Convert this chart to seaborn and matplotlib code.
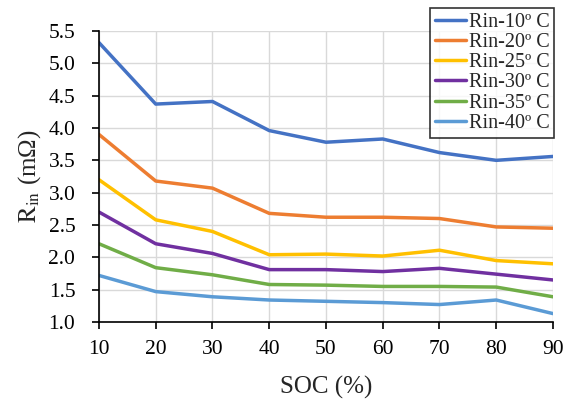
import matplotlib
matplotlib.use("Agg")
import matplotlib.pyplot as plt
import seaborn as sns
import pandas as pd

soc = [10, 20, 30, 40, 50, 60, 70, 80, 90]
rin_10 = [5.32, 4.37, 4.41, 3.96, 3.78, 3.83, 3.62, 3.50, 3.56]
rin_20 = [3.90, 3.18, 3.07, 2.68, 2.62, 2.62, 2.60, 2.47, 2.45]
rin_25 = [3.20, 2.58, 2.40, 2.04, 2.05, 2.02, 2.11, 1.95, 1.90]
rin_30 = [2.70, 2.21, 2.06, 1.81, 1.81, 1.78, 1.83, 1.74, 1.65]
rin_35 = [2.21, 1.84, 1.73, 1.58, 1.57, 1.55, 1.55, 1.54, 1.39]
rin_40 = [1.72, 1.47, 1.39, 1.34, 1.32, 1.30, 1.27, 1.34, 1.13]
labels = ["Rin-10º C", "Rin-20º C", "Rin-25º C", "Rin-30º C", "Rin-35º C", "Rin-40º C"]
colors = ["#4472C4", "#ED7D31", "#FFC000", "#7030A0", "#70AD47", "#5B9BD5"]

series = [rin_10, rin_20, rin_25, rin_30, rin_35, rin_40]
rows = []
for lab, vals in zip(labels, series):
    for s, v in zip(soc, vals):
        rows.append({"SOC": s, "Rin": v, "Series": lab})
df = pd.DataFrame(rows)

sns.set_style("white")
plt.rcParams["font.family"] = ["Liberation Serif", "DejaVu Serif"]
plt.rcParams["mathtext.fontset"] = "stix"

fig = plt.figure(figsize=(5.64, 4.01), dpi=100)
ax = fig.add_axes([0.1755, 0.197, 0.805, 0.7257])
sns.lineplot(data=df, x="SOC", y="Rin", hue="Series", hue_order=labels,
             palette=colors, linewidth=2.5, ax=ax)

ax.set_xlim(10, 90)
ax.set_ylim(1.0, 5.5)
ax.set_xticks(soc)
ax.set_yticks([1.0 + 0.5 * i for i in range(10)])
ax.set_yticklabels([f"{1.0 + 0.5 * i:.1f}" for i in range(10)])
ax.grid(True, color="#d9d9d9", linewidth=1)
ax.set_axisbelow(True)
for side in ["top", "right"]:
    ax.spines[side].set_visible(False)
for side in ["left", "bottom"]:
    ax.spines[side].set_color("black")
    ax.spines[side].set_linewidth(1.2)
ax.tick_params(axis="both", direction="out", length=5, width=1.2,
               colors="black", labelsize=15.5, bottom=True, left=True)
ax.tick_params(axis="x", pad=8)
ax.tick_params(axis="y", pad=12)
ax.set_xlabel("SOC (%)", fontsize=18, labelpad=12)
ax.set_ylabel(r"$\mathrm{R_{in}}$ (mΩ)", fontsize=18, labelpad=4)

ax.legend_.remove()
handles, lbls = ax.get_legend_handles_labels()
leg = fig.legend(handles, lbls, loc="upper right", bbox_to_anchor=(0.99, 0.99),
                 fontsize=14.5, frameon=True, fancybox=False, edgecolor="black",
                 handlelength=1.5, handletextpad=0.15, labelspacing=0.05,
                 borderpad=0.25, borderaxespad=0.2)
leg.get_frame().set_linewidth(1.2)

fig.savefig("out.png", dpi=100)
